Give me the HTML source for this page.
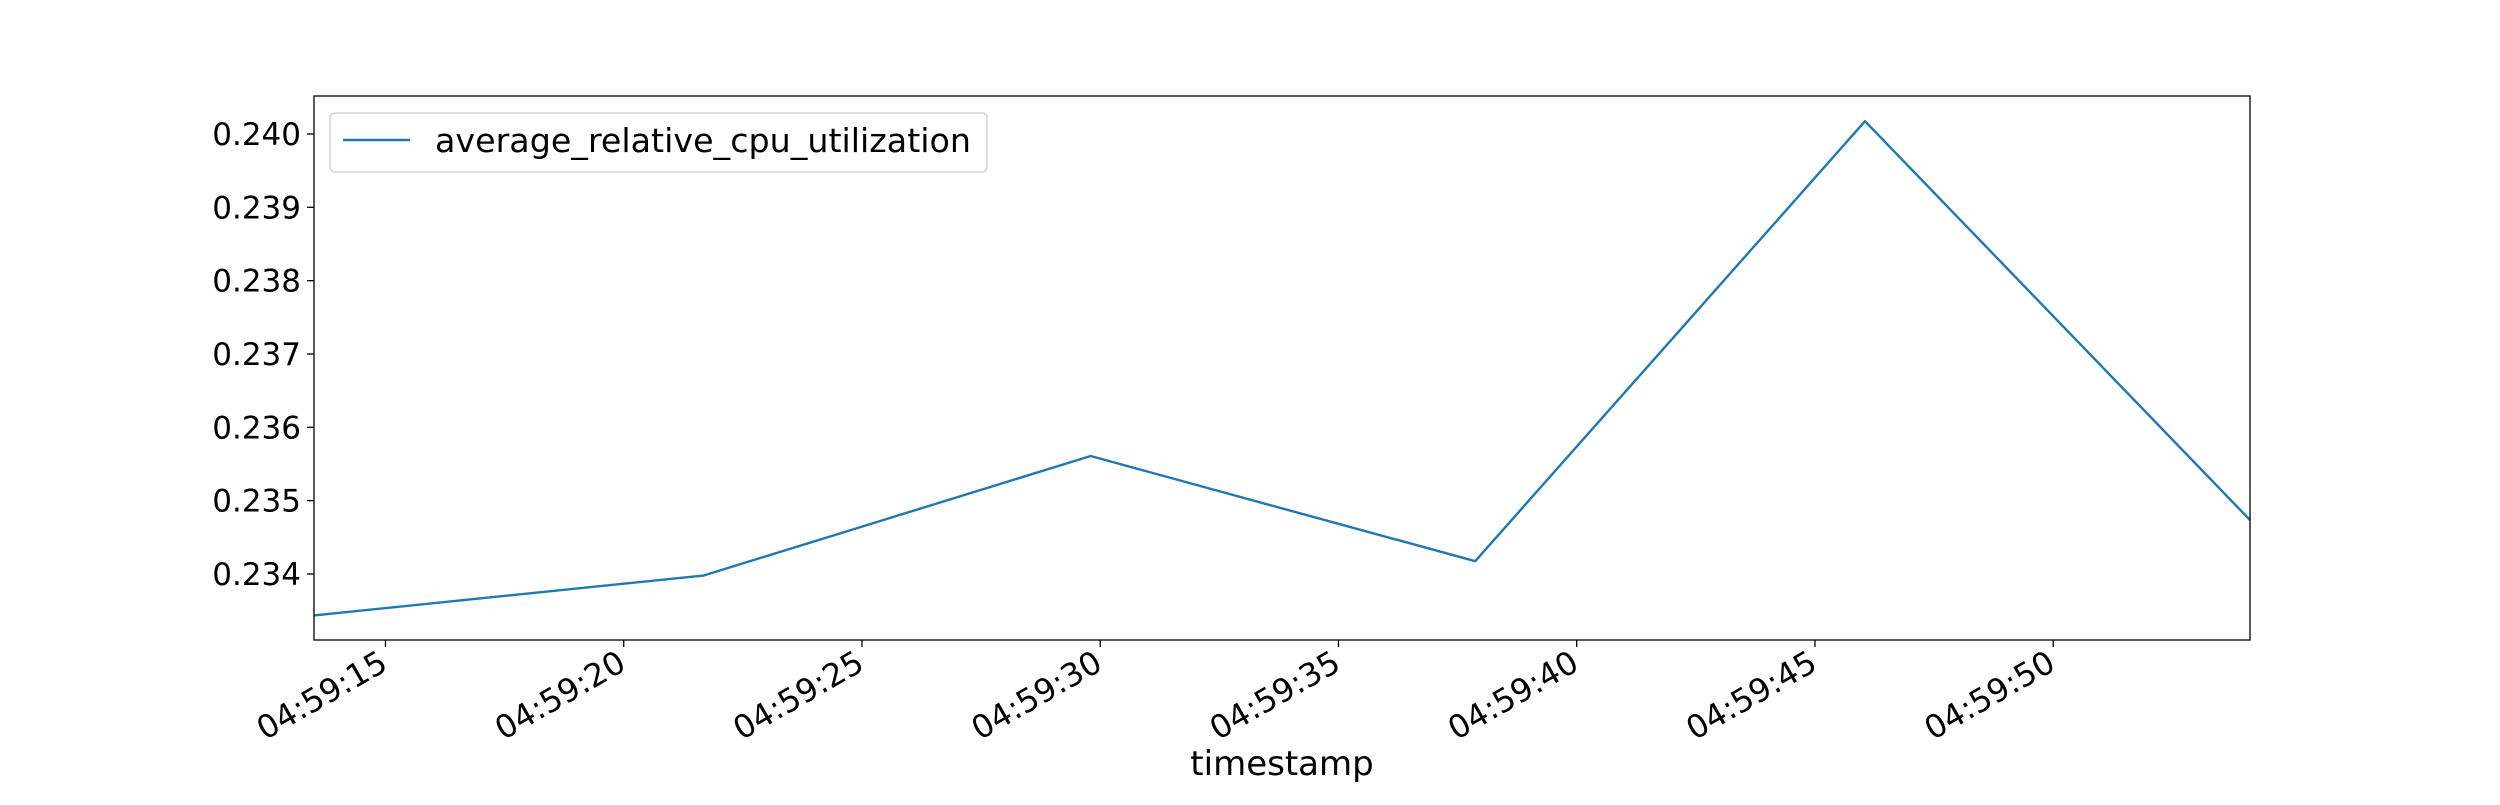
<!DOCTYPE html>
<html><head><meta charset="utf-8"><style>
html,body{margin:0;padding:0;background:#fff;}
svg text{font-family:"DejaVu Sans","Liberation Sans",sans-serif;fill:#000;}
</style></head><body>
<svg id="chart" width="2500" height="800" xmlns="http://www.w3.org/2000/svg">
<rect width="2500" height="800" fill="#fff"/>
<g id="plot"></g>
</svg>
<script>
const times = [13.5, 21.67, 29.8, 37.87, 46.05, 54.13];
const values = [0.233435, 0.233978, 0.235609, 0.234174, 0.240175, 0.234736];
const yTicks = [0.234, 0.235, 0.236, 0.237, 0.238, 0.239, 0.240];
const yTickLabels = ["0.234","0.235","0.236","0.237","0.238","0.239","0.240"];
const xTicks = [15, 20, 25, 30, 35, 40, 45, 50];
const xTickLabels = ["04:59:15","04:59:20","04:59:25","04:59:30","04:59:35","04:59:40","04:59:45","04:59:50"];
const seriesName = "average_relative_cpu_utilization";

const L=314,R=2250,T=96,B=640;
const xMin=13.5,xMax=54.13,yMin=0.2331,yMax=0.240518;
const xs=v=>L+(v-xMin)/(xMax-xMin)*(R-L);
const ys=v=>B-(v-yMin)/(yMax-yMin)*(B-T);
const NS="http://www.w3.org/2000/svg";
const g=document.getElementById('plot');
function mk(tag,attrs){const e=document.createElementNS(NS,tag);for(const k in attrs)e.setAttribute(k,attrs[k]);g.appendChild(e);return e;}

yTicks.forEach((v,i)=>{
  const y=ys(v);
  const t=mk('line',{x1:L-7,x2:L,y1:y,y2:y,stroke:'#000','stroke-width':1.3});
  
  
  const tx=mk('text',{x:L-13,y:y+11,'font-size':31,'text-anchor':'end'});
  tx.textContent=yTickLabels[i];
  
  
});
xTicks.forEach((v,i)=>{
  const x=xs(v);
  const t=mk('line',{x1:x,x2:x,y1:B,y2:B+7,stroke:'#000','stroke-width':1.3});
  
  
  const tx=mk('text',{x:0,y:0,'font-size':32,'text-anchor':'end',transform:`translate(${x-8},${B+8}) rotate(-30)`,dy:'0.75em'});
  tx.textContent=xTickLabels[i];
  
  
});
const pts=times.map((t,i)=>xs(t).toFixed(1)+','+ys(values[i]).toFixed(1)).join(' ');
const line=mk('polyline',{points:pts,fill:'none',stroke:'#1f77b4','stroke-width':2.4,'stroke-linejoin':'round'});


const frame=mk('rect',{x:L,y:T,width:R-L,height:B-T,fill:'none',stroke:'#000','stroke-width':1.3});


const xl=mk('text',{x:(L+R)/2,y:775,'font-size':34,'text-anchor':'middle'});
xl.textContent='timestamp';


const lb=mk('rect',{x:330,y:113,width:657,height:59,rx:5,fill:'#fff','fill-opacity':0.8,stroke:'#ccc','stroke-width':1.3});


const ll=mk('line',{x1:343,x2:410,y1:140,y2:140,stroke:'#1f77b4','stroke-width':2.4});


const lt=mk('text',{x:435,y:152,'font-size':33.3});
lt.textContent=seriesName;


</script>
</body></html>
